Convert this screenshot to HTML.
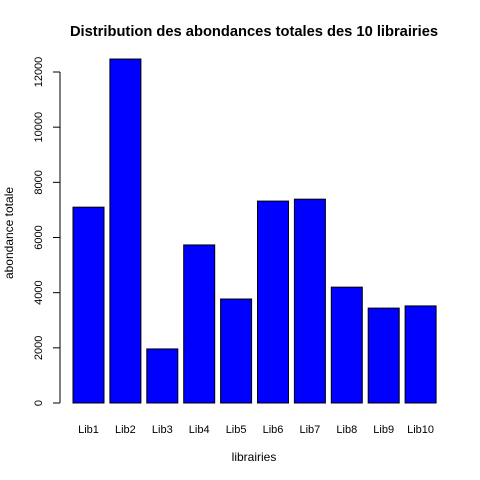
<!DOCTYPE html>
<html><head><meta charset="utf-8"><style>
body{margin:0;background:#fff}
svg{display:block;font-family:"Liberation Sans",Arial,sans-serif}
</style></head><body>
<svg id="chart" width="480" height="480">
<text x="254" y="36" text-anchor="middle" font-size="14.7" font-weight="bold">Distribution des abondances totales des 10 librairies</text>
<text x="254" y="461" text-anchor="middle" font-size="12">librairies</text>
<text transform="translate(13,233) rotate(-90)" text-anchor="middle" font-size="12">abondance totale</text>
<g id="bars"></g><g id="yaxis"></g><g id="xlabels"></g>
</svg>
<script>
const categories=["Lib1","Lib2","Lib3","Lib4","Lib5","Lib6","Lib7","Lib8","Lib9","Lib10"];
const values=[7100,12470,1960,5730,3770,7320,7390,4200,3440,3520];
const yTicks=[0,2000,4000,6000,8000,10000,12000];
const NS="http://www.w3.org/2000/svg";
function y(v){return 403-v*(331/12000);}
function x(i){return 73+i*36.9;}
const bars=document.getElementById('bars');
categories.forEach((c,i)=>{
 const r=document.createElementNS(NS,'rect');
 r.setAttribute('x',x(i));r.setAttribute('y',y(values[i]));
 r.setAttribute('width',31);r.setAttribute('height',403-y(values[i]));
 r.setAttribute('fill','#0000ff');r.setAttribute('stroke','#000');
 
 
 bars.appendChild(r);
 const t=document.createElementNS(NS,'text');
 t.setAttribute('x',x(i)+15.5);t.setAttribute('y',433);
 t.setAttribute('text-anchor','middle');t.setAttribute('font-size','11');
 t.textContent=c;
 
 
 document.getElementById('xlabels').appendChild(t);
});
const ya=document.getElementById('yaxis');
const al=document.createElementNS(NS,'line');
al.setAttribute('x1',60);al.setAttribute('x2',60);al.setAttribute('y1',y(0));al.setAttribute('y2',y(12000));al.setAttribute('stroke','#000');


ya.appendChild(al);
yTicks.forEach(v=>{
 const l=document.createElementNS(NS,'line');
 l.setAttribute('x1',53);l.setAttribute('x2',60);l.setAttribute('y1',y(v));l.setAttribute('y2',y(v));l.setAttribute('stroke','#000');
 
 
 ya.appendChild(l);
 const t=document.createElementNS(NS,'text');
 t.setAttribute('transform','translate(42,'+y(v)+') rotate(-90)');
 t.setAttribute('text-anchor','middle');t.setAttribute('font-size','11');
 t.textContent=v;
 
 
 ya.appendChild(t);
});
</script>
</body></html>
